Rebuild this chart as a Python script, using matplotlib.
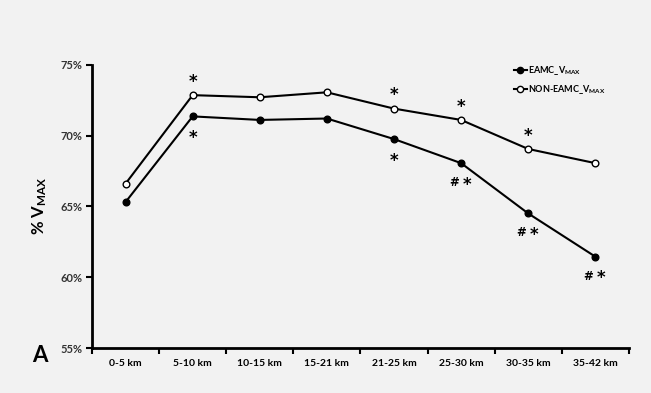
import matplotlib
matplotlib.use('Agg')
import matplotlib.pyplot as plt
from matplotlib.lines import Line2D

plt.rcParams['font.family'] = ['Lato', 'DejaVu Sans']
plt.rcParams['mathtext.fontset'] = 'custom'
plt.rcParams['mathtext.rm'] = 'Lato:bold'
plt.rcParams['mathtext.it'] = 'Lato:bold'
plt.rcParams['mathtext.bf'] = 'Lato:bold'

segments = ['0-5 km', '5-10 km', '10-15 km', '15-21 km',
            '21-25 km', '25-30 km', '30-35 km', '35-42 km']
eamc = [65.3, 71.35, 71.1, 71.2, 69.75, 68.05, 64.5, 61.45]
non_eamc = [66.6, 72.85, 72.7, 73.05, 71.9, 71.1, 69.05, 68.05]

# significance marks: above the NON-EAMC point, below the EAMC point
marks_above = ['', '*', '', '', '*', '*', '*', '']
marks_below = ['', '*', '', '', '*', '# *', '# *', '# *']

bg = '#f2f2f2'
fig = plt.figure(figsize=(6.51, 3.93), dpi=100, facecolor=bg)
ax = fig.add_axes([0.1413, 0.1145, 0.8247, 0.7209], facecolor=bg)

x = list(range(len(segments)))
ax.plot(x, eamc, '-o', color='black', lw=1.5, ms=4.8,
        mfc='black', mec='black', zorder=3)
ax.plot(x, non_eamc, '-o', color='black', lw=1.5, ms=4.8,
        mfc='white', mec='black', mew=1.0, zorder=3)

star = dict(textcoords='offset points', ha='center', va='top',
            fontsize=12, fontweight='bold', family='DejaVu Sans')
for i in x:
    if marks_above[i]:
        ax.annotate(marks_above[i], (i, non_eamc[i]), xytext=(0, 16), **star)
    if marks_below[i] == '*':
        ax.annotate('*', (i, eamc[i]), xytext=(0, -9), **star)
    elif marks_below[i]:
        ax.annotate('*', (i, eamc[i]), xytext=(4, -9), **star)
        ax.annotate('#', (i, eamc[i]), xytext=(-5, -14), textcoords='offset points',
                    ha='center', va='center', fontsize=8.5, fontweight='bold',
                    family='DejaVu Sans')

ax.set_xlim(-0.5, len(segments) - 0.5)
ax.set_ylim(55, 75)
ax.set_yticks([55, 60, 65, 70, 75])
ax.set_yticklabels(['55%', '60%', '65%', '70%', '75%'],
                   fontsize=8, fontweight='bold', color='#333333')
ax.set_xticks(x)
ax.set_xticklabels(segments, fontsize=7.5, fontweight='bold')
ax.set_xticks([i - 0.5 for i in range(len(segments) + 1)], minor=True)
ax.tick_params(axis='x', which='major', length=0, pad=8)
ax.tick_params(axis='x', which='minor', length=4, width=1.5, direction='out')
ax.tick_params(axis='y', length=4, width=1.5, direction='out', pad=3)

for s in ['top', 'right']:
    ax.spines[s].set_visible(False)
for s in ['left', 'bottom']:
    ax.spines[s].set_linewidth(2)

ax.set_ylabel(r'% V$_{\mathrm{MAX}}$', fontsize=12, fontweight='bold',
              labelpad=8)

handles = [
    Line2D([], [], color='black', lw=1.5, marker='o', ms=4.5, mfc='black'),
    Line2D([], [], color='black', lw=1.5, marker='o', ms=4.5, mfc='white'),
]
leg = ax.legend(handles, [r'EAMC_V$_{\mathrm{MAX}}$', r'NON-EAMC_V$_{\mathrm{MAX}}$'],
                loc='upper left', bbox_to_anchor=(0.77, 1.03), frameon=False,
                handlelength=1.5, handletextpad=0.15,
                labelspacing=0.7, prop={'weight': 'bold', 'size': 6.5})

fig.text(0.062, 0.095, 'A', fontsize=16, fontweight='bold', ha='center', va='center')

fig.savefig('out.png', dpi=100, facecolor=bg)
